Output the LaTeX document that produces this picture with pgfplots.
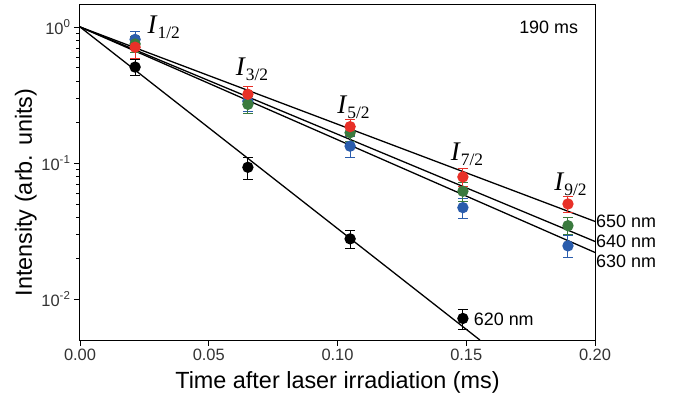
\documentclass[border=0pt]{standalone}
\usepackage{fontspec}
\setmainfont{Liberation Sans}
\newfontfamily\timesfont{Liberation Serif}
\usepackage{pgfplots}
\pgfplotsset{compat=1.18}
\definecolor{ptred}{RGB}{232,48,40}
\definecolor{ptgreen}{RGB}{58,122,62}
\definecolor{ptblue}{RGB}{42,92,172}

\newcommand{\Ilab}[1]{{\timesfont\fontsize{27}{27}\selectfont\textit{I}\raisebox{-0.4ex}{\fontsize{17.5}{17.5}\selectfont #1}}}

\begin{document}
\begin{tikzpicture}
\begin{axis}[
    scale only axis,
    width=515bp, height=335bp,
    xmin=0, xmax=0.2,
    ymode=log, ymin=0.005, ymax=1.45,
    xtick={0,0.05,0.1,0.15,0.2},
    xticklabels={0.00,0.05,0.10,0.15,0.20},
    ytick={0.01,0.1,1},
    yticklabels={10\textsuperscript{-2},10\textsuperscript{-1},10\textsuperscript{0}},
    tick align=outside,
    xtick pos=bottom, ytick pos=left,
    major tick length=6bp, minor tick length=3.5bp,
    tick style={black, line width=0.9bp},
    axis line style={line width=1bp},
    tick label style={font=\fontsize{16.5}{16.5}\selectfont, text=black!80},
    xlabel={Time after laser irradiation (ms)},
    ylabel={Intensity (arb. units)},
    label style={font=\fontsize{23.5}{23.5}\selectfont},
    xlabel style={yshift=-4bp},
    ylabel style={at={(ticklabel cs:0.44)}, yshift=-2bp},
    clip=false,
    every axis plot/.append style={line width=1.3bp},
    error bars/error bar style={line width=1bp},
    error bars/error mark options={rotate=90, mark size=5bp, line width=1bp},
]
% fit lines
\addplot[black, no marks] coordinates {(0,1) (0.1553,0.005)};
\addplot[black, no marks] coordinates {(0,1) (0.2,0.0372)};
\addplot[black, no marks] coordinates {(0,1) (0.2,0.0265)};
\addplot[black, no marks] coordinates {(0,1) (0.2,0.0220)};
% 620 nm
\addplot[only marks, mark=*, mark size=5bp, black,
    error bars/.cd, y dir=both, y explicit] coordinates {
    (0.0214,0.507) +- (0,0.07)
    (0.0652,0.093) +- (0,0.017)
    (0.1049,0.0277) +- (0,0.004)
    (0.1487,0.0072) +- (0,0.0012)
};
% 630 nm
\addplot[only marks, mark=*, mark size=5bp, ptblue, mark options={fill=ptblue},
    error bars/.cd, y dir=both, y explicit] coordinates {
    (0.0214,0.81) +- (0,0.12)
    (0.0652,0.285) +- (0,0.045)
    (0.1049,0.133) +- (0,0.024)
    (0.1487,0.047) +- (0,0.008)
    (0.1895,0.0246) +- (0,0.0045)
};
% 640 nm
\addplot[only marks, mark=*, mark size=5bp, ptgreen, mark options={fill=ptgreen},
    error bars/.cd, y dir=both, y explicit] coordinates {
    (0.0214,0.75) +- (0,0.10)
    (0.0652,0.27) +- (0,0.04)
    (0.1049,0.167) +- (0,0.022)
    (0.1487,0.062) +- (0,0.01)
    (0.1895,0.0346) +- (0,0.005)
};
% 650 nm
\addplot[only marks, mark=*, mark size=5bp, ptred, mark options={fill=ptred},
    error bars/.cd, y dir=both, y explicit] coordinates {
    (0.0214,0.71) +- (0,0.12)
    (0.0652,0.32) +- (0,0.047)
    (0.1049,0.185) +- (0,0.025)
    (0.1487,0.079) +- (0,0.012)
    (0.1895,0.050) +- (0,0.007)
};
% labels
\node[anchor=west, font=\fontsize{18}{18}\selectfont, inner sep=1bp] at (axis cs:0.2,0.0372) {650 nm};
\node[anchor=west, font=\fontsize{18}{18}\selectfont, inner sep=1bp] at (axis cs:0.2,0.0265) {640 nm};
\node[anchor=west, font=\fontsize{18}{18}\selectfont, inner sep=1bp] at (axis cs:0.2,0.0190) {630 nm};
\node[anchor=west, font=\fontsize{18}{18}\selectfont, inner sep=1bp] at (axis cs:0.1525,0.0071) {620 nm};
\node[anchor=east, font=\fontsize{18}{18}\selectfont, inner sep=0pt] at (axis cs:0.1935,1.0) {190 ms};
\node at (axis cs:0.0325,1.0) {\Ilab{1/2}};
\node at (axis cs:0.0668,0.49) {\Ilab{3/2}};
\node at (axis cs:0.1062,0.257) {\Ilab{5/2}};
\node at (axis cs:0.1503,0.115) {\Ilab{7/2}};
\node at (axis cs:0.1905,0.070) {\Ilab{9/2}};
\end{axis}
\pgfresetboundingbox
\path (-80bp,-61bp) rectangle (601bp,340bp);
\end{tikzpicture}
\end{document}
